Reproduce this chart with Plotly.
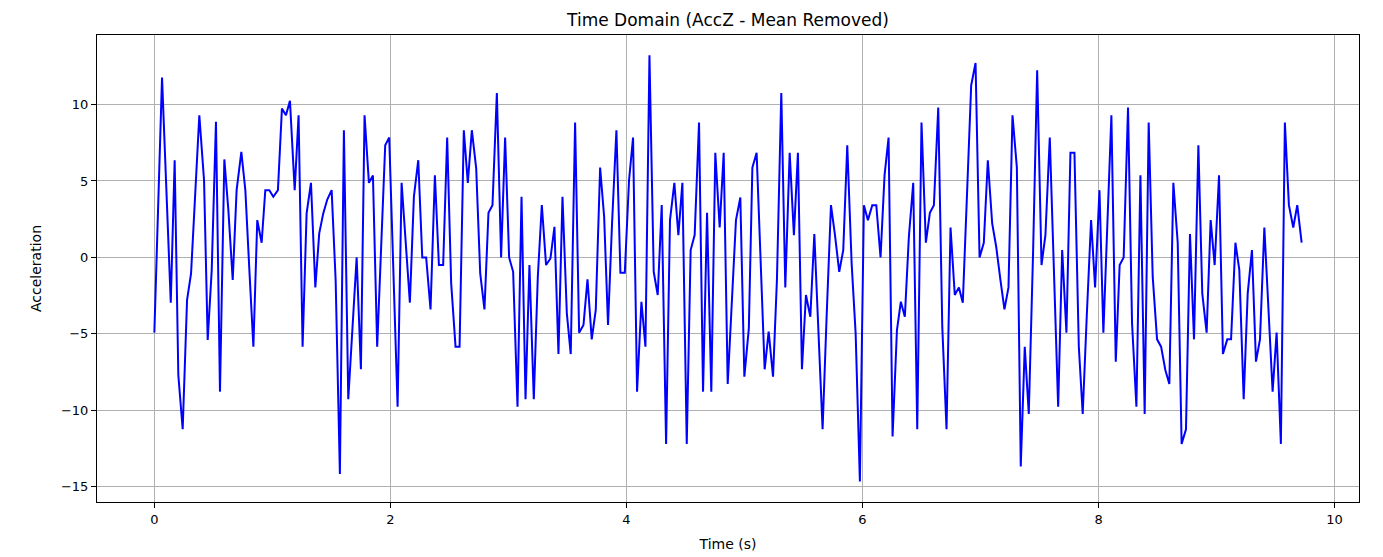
import plotly.graph_objects as go

# time (s) and AccZ with the mean removed
time_s = [
    0.000, 0.065, 0.139, 0.172, 0.203, 0.240, 0.277, 0.311, 0.381, 0.421,
    0.452, 0.486, 0.522, 0.556, 0.593, 0.627, 0.664, 0.697, 0.737, 0.771,
    0.805, 0.839, 0.872, 0.909, 0.940, 0.974, 1.008, 1.047, 1.081, 1.115,
    1.149, 1.189, 1.222, 1.256, 1.290, 1.327, 1.364, 1.397, 1.431, 1.465,
    1.502, 1.536, 1.572, 1.606, 1.643, 1.677, 1.714, 1.750, 1.781, 1.818,
    1.852, 1.888, 1.922, 1.956, 1.990, 2.024, 2.061, 2.095, 2.131, 2.165,
    2.199, 2.236, 2.270, 2.303, 2.340, 2.377, 2.411, 2.447, 2.481, 2.515,
    2.552, 2.586, 2.622, 2.656, 2.690, 2.727, 2.761, 2.797, 2.831, 2.865,
    2.902, 2.938, 2.972, 3.006, 3.040, 3.077, 3.111, 3.145, 3.178, 3.215,
    3.249, 3.283, 3.319, 3.356, 3.390, 3.424, 3.458, 3.495, 3.528, 3.565,
    3.599, 3.636, 3.670, 3.706, 3.740, 3.777, 3.811, 3.844, 3.878, 3.915,
    3.949, 3.986, 4.022, 4.056, 4.090, 4.127, 4.161, 4.195, 4.231, 4.265,
    4.299, 4.336, 4.369, 4.406, 4.440, 4.474, 4.511, 4.544, 4.578, 4.615,
    4.649, 4.683, 4.719, 4.753, 4.790, 4.824, 4.858, 4.894, 4.928, 4.965,
    4.999, 5.037, 5.067, 5.103, 5.137, 5.171, 5.205, 5.242, 5.275, 5.312,
    5.346, 5.383, 5.419, 5.453, 5.487, 5.521, 5.558, 5.592, 5.625, 5.662,
    5.696, 5.733, 5.767, 5.803, 5.837, 5.871, 5.908, 5.942, 5.978, 6.012,
    6.046, 6.083, 6.117, 6.153, 6.187, 6.221, 6.255, 6.292, 6.325, 6.359,
    6.393, 6.430, 6.464, 6.500, 6.537, 6.571, 6.605, 6.642, 6.676, 6.712,
    6.746, 6.782, 6.817, 6.850, 6.887, 6.921, 6.958, 6.992, 7.028, 7.062,
    7.099, 7.133, 7.169, 7.203, 7.237, 7.271, 7.308, 7.341, 7.375, 7.409,
    7.446, 7.480, 7.517, 7.550, 7.587, 7.621, 7.658, 7.692, 7.728, 7.762,
    7.796, 7.833, 7.866, 7.900, 7.937, 7.971, 8.008, 8.041, 8.075, 8.109,
    8.146, 8.179, 8.213, 8.250, 8.284, 8.321, 8.355, 8.391, 8.425, 8.459,
    8.496, 8.530, 8.566, 8.600, 8.634, 8.671, 8.704, 8.741, 8.775, 8.809,
    8.846, 8.879, 8.916, 8.950, 8.984, 9.021, 9.054, 9.091, 9.123, 9.160,
    9.193, 9.230, 9.264, 9.300, 9.334, 9.368, 9.405, 9.439, 9.475, 9.509,
    9.545, 9.579, 9.613, 9.650, 9.684, 9.721,
]

acc_z = [
    -4.92, 11.76, -2.96, 6.36, -7.69, -11.24, -2.79, -1.05, 9.30, 5.05,
    -5.40, -0.83, 8.87, -8.78, 6.41, 3.09, -1.48, 4.40, 6.91, 4.40,
    -0.83, -5.84, 2.44, 0.96, 4.40, 4.40, 3.97, 4.40, 9.74, 9.30,
    10.24, 4.40, 9.30, -5.84, 2.88, 4.88, -1.96, 1.57, 2.88, 3.79,
    4.40, -1.48, -14.16, 8.32, -9.28, -4.53, 0.00, -7.32, 9.30, 4.88,
    5.36, -5.84, 1.35, 7.34, 7.84, -0.39, -9.76, 4.88, 1.13, -2.96,
    3.97, 6.36, 0.00, 0.00, -3.40, 5.38, -0.50, -0.50, 7.84, -1.70,
    -5.84, -5.84, 8.32, 4.88, 8.32, 5.82, -1.05, -3.40, 2.92, 3.42,
    10.76, 0.00, 7.84, 0.00, -0.94, -9.76, 3.97, -9.28, -0.50, -9.28,
    -1.26, 3.42, -0.50, -0.07, 2.00, -6.32, 3.97, -3.66, -6.32, 8.82,
    -4.92, -4.42, -1.44, -5.36, -3.44, 5.88, 2.66, -4.42, 2.22, 8.32,
    -1.00, -1.00, 5.05, 7.84, -8.78, -2.90, -5.84, 13.22, -0.94, -2.46,
    3.42, -12.20, 2.44, 4.88, 1.46, 4.88, -12.20, 0.48, 1.46, 8.82,
    -8.78, 2.92, -8.78, 6.84, 1.96, 6.84, -8.28, -3.01, 2.44, 3.92,
    -7.80, -4.64, 5.88, 6.84, -0.39, -7.32, -4.86, -7.80, -1.48, 10.76,
    -1.96, 6.84, 1.46, 6.84, -7.32, -2.46, -3.88, 1.53, -4.53, -11.24,
    -3.88, 3.42, 1.46, -0.94, 0.48, 7.34, -0.39, -4.97, -14.66, 3.42,
    2.44, 3.42, 3.42, 0.00, 5.38, 7.84, -11.72, -4.75, -2.90, -3.88,
    1.35, 4.88, -11.24, 8.82, 0.96, 2.92, 3.42, 9.80, -4.53, -11.24,
    1.96, -2.46, -1.96, -2.96, 4.40, 11.26, 12.72, 0.00, 0.96, 6.36,
    2.22, 0.70, -1.48, -3.40, -1.96, 9.30, 5.88, -13.68, -5.84, -10.24,
    0.48, 12.24, -0.50, 1.46, 7.84, -0.83, -9.76, 0.48, -4.92, 6.84,
    6.84, -5.84, -10.24, -3.88, 2.44, -1.96, 4.40, -4.92, 2.22, 9.30,
    -6.82, -0.50, 0.00, 9.80, -4.31, -9.76, 5.38, -10.24, 8.82, -1.26,
    -5.36, -5.84, -7.36, -8.28, 4.88, 0.96, -12.20, -11.24, 1.53, -5.36,
    7.34, -2.35, -4.92, 2.44, -0.50, 5.38, -6.32, -5.36, -5.36, 0.96,
    -0.83, -9.28, -2.35, 0.48, -6.82, -5.36, 1.96, -3.01, -8.78, -4.92,
    -12.20, 8.82, 3.42, 1.96, 3.42, 0.96,
]

FONT = "DejaVu Sans, Arial, sans-serif"

fig = go.Figure()
fig.add_trace(go.Scatter(x=time_s, y=acc_z, mode="lines",
                         line=dict(color="#0000ff", width=2),
                         showlegend=False))

# matplotlib-ish look: boxed axes, grey grid, outside ticks
axis_style = dict(showline=True, linecolor="black", linewidth=1, mirror=True,
                  showgrid=True, gridcolor="#b0b0b0", gridwidth=0.8,
                  ticks="outside", ticklen=5, tickcolor="black",
                  zeroline=False, automargin=False,
                  tickfont=dict(size=13, color="black"))

fig.update_xaxes(range=[-0.486, 10.207], tickvals=[0, 2, 4, 6, 8, 10],
                 title=dict(text="Time (s)", font=dict(size=14, color="black"), standoff=13),
                 **axis_style)
fig.update_yaxes(range=[-16.0, 14.55], tickvals=[-15, -10, -5, 0, 5, 10],
                 title=dict(text="Acceleration", font=dict(size=14, color="black"), standoff=16),
                 **axis_style)

# the page body adds an 8px offset, so the figure is a bit smaller than the window
fig.update_layout(
    width=1375, height=549,
    margin=dict(l=89, r=24, t=27, b=55),
    paper_bgcolor="white", plot_bgcolor="white",
    font=dict(family=FONT, color="black"),
    title=dict(text="Time Domain (AccZ - Mean Removed)", x=0.5, xref="paper",
               y=1, yref="paper", yanchor="bottom", pad=dict(b=9),
               font=dict(size=17, color="black")),
)

fig.write_html("out.html")
